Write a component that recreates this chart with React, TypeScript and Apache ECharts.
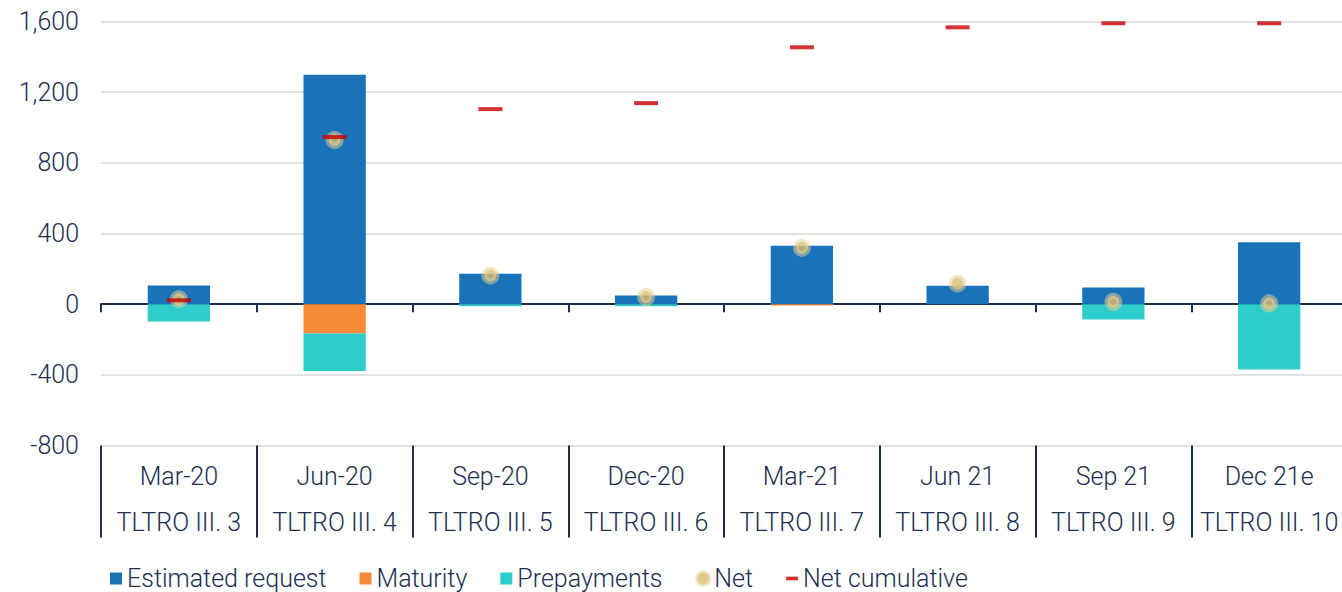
import React, { useEffect, useRef } from "react";
import * as echarts from "echarts";

const categories = ["Mar-20", "Jun-20", "Sep-20", "Dec-20", "Mar-21", "Jun 21", "Sep 21", "Dec 21e"];
const operations = ["TLTRO III. 3", "TLTRO III. 4", "TLTRO III. 5", "TLTRO III. 6", "TLTRO III. 7", "TLTRO III. 8", "TLTRO III. 9", "TLTRO III. 10"];
const estimatedRequest = [105, 1299, 172, 49, 330, 104, 95, 351];
const maturity = [0, -166, 0, 0, -8, 0, 0, 0];
const prepayments = [-98, -212, -12, -12, 0, 0, -87, -370];
const net = [28, 929, 162, 40, 319, 117, 13, 4];
const netCumulative = [22, 946, 1104, 1138, 1454, 1567, 1590, 1590];
const yTicks = { min: -800, max: 1600, interval: 400 };

const TEXT = "#1c2d4f";
const FONT = "Roboto";
const WEIGHT = 300;

export default function App() {
  const ref = useRef<HTMLDivElement>(null);
  useEffect(() => {
    if (!ref.current) return;
    const chart = echarts.init(ref.current, undefined, { renderer: "svg" });
    const labels = categories.map((c, i) => c + "\n" + operations[i]);
    chart.setOption({
      animation: false,
      textStyle: { fontFamily: FONT, fontWeight: WEIGHT },
      grid: {
        left: 101,
        width: 1246,
        top: 21.5,
        bottom: 146.5,
        containLabel: false,
        outerBoundsMode: "none",
      },
      legend: {
        left: 110,
        top: 566,
        padding: 0,
        itemGap: 33,
        itemWidth: 12,
        itemHeight: 12,
        textStyle: { color: TEXT, fontSize: 25, fontFamily: FONT, fontWeight: WEIGHT },
        data: [
          { name: "Estimated request", icon: "rect" },
          { name: "Maturity", icon: "rect" },
          { name: "Prepayments", icon: "rect" },
          {
            name: "Net",
            icon: "circle",
            itemStyle: { color: "#d8bb6c", borderColor: "rgba(228, 208, 150, 0.7)", borderWidth: 4 },
          },
          { name: "Net cumulative", icon: "path://M0,0h13v4h-13z" },
        ],
      },
      xAxis: [
        {
          type: "category",
          data: labels,
          position: "bottom",
          axisLine: { show: false, onZero: false },
          axisTick: { show: true, length: 92, lineStyle: { color: TEXT, width: 2 } },
          axisLabel: {
            color: TEXT,
            fontSize: 25,
            fontFamily: FONT,
            fontWeight: WEIGHT,
            lineHeight: 46,
            margin: 8,
            interval: 0,
          },
          splitLine: { show: false },
        },
        {
          type: "category",
          data: labels,
          position: "bottom",
          axisLine: { show: true, onZero: true, lineStyle: { color: TEXT, width: 2 } },
          axisTick: { show: true, length: 8, lineStyle: { color: TEXT, width: 2 } },
          axisLabel: { show: false },
          splitLine: { show: false },
        },
      ],
      yAxis: {
        type: "value",
        min: yTicks.min,
        max: yTicks.max,
        interval: yTicks.interval,
        axisLine: { show: false },
        axisTick: { show: false },
        axisLabel: {
          color: TEXT,
          fontSize: 25,
          fontFamily: FONT,
          fontWeight: WEIGHT,
          margin: 22,
          formatter: (v: number) => v.toLocaleString("en-US"),
        },
        splitLine: { lineStyle: { color: "#d9d9d9", width: 1.5 } },
      },
      series: [
        {
          name: "Estimated request",
          type: "bar",
          stack: "total",
          barWidth: "40%",
          data: estimatedRequest,
          itemStyle: { color: "#1a73b8" },
        },
        {
          name: "Maturity",
          type: "bar",
          stack: "total",
          data: maturity,
          itemStyle: { color: "#f78b3a" },
        },
        {
          name: "Prepayments",
          type: "bar",
          stack: "total",
          data: prepayments,
          itemStyle: { color: "#2ecdcc" },
        },
        {
          name: "Net",
          type: "scatter",
          symbol: "circle",
          symbolSize: 12,
          data: net,
          z: 5,
          itemStyle: {
            color: "#d8bb6c",
            borderColor: "rgba(228, 208, 150, 0.65)",
            borderWidth: 6,
          },
        },
        {
          name: "Net cumulative",
          type: "scatter",
          symbol: "rect",
          symbolSize: [24, 4],
          data: netCumulative,
          z: 6,
          itemStyle: { color: "#c80000" },
        },
      ],
    });
    return () => chart.dispose();
  }, []);
  return (
    <div
      ref={ref}
      style={{ position: "fixed", left: 0, top: 0, width: 1342, height: 592, background: "#fff" }}
    />
  );
}
